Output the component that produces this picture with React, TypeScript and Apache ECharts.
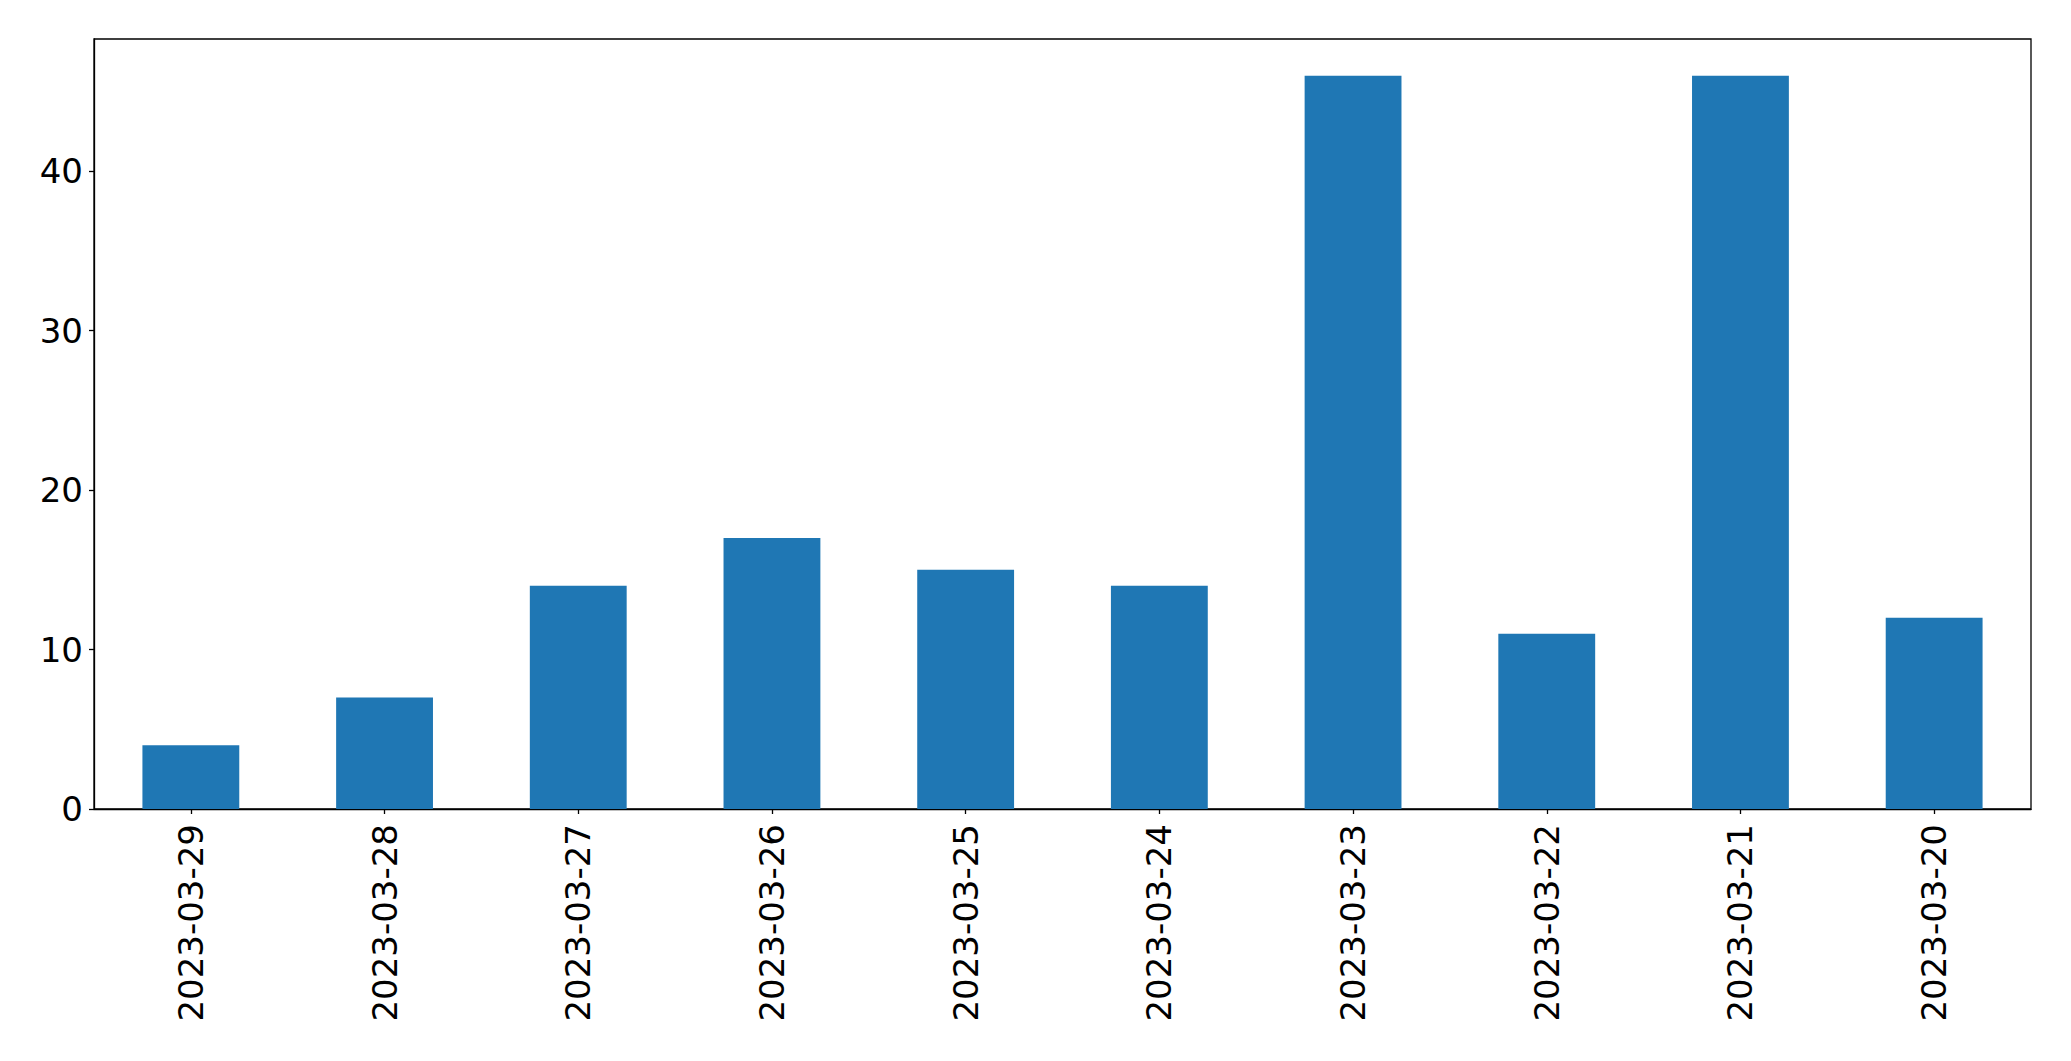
import React, { useEffect, useRef } from "react";
import * as echarts from "echarts";

const categories = [
  "2023-03-29", "2023-03-28", "2023-03-27", "2023-03-26", "2023-03-25",
  "2023-03-24", "2023-03-23", "2023-03-22", "2023-03-21", "2023-03-20",
];
const values = [4, 7, 14, 17, 15, 14, 46, 11, 46, 12];
const yMax = 48.3;
const yInterval = 10;

export default function App() {
  const ref = useRef<HTMLDivElement>(null);
  useEffect(() => {
    if (!ref.current) return;
    const chart = echarts.init(ref.current, undefined, { renderer: "svg" });
    const font = "DejaVu Sans";
    chart.setOption({
      animation: false,
      backgroundColor: "#ffffff",
      grid: {
        left: 94,
        top: 39,
        width: 1937,
        height: 770,
        show: true,
        borderColor: "#000000",
        borderWidth: 1.3,
        backgroundColor: "transparent",
      },
      xAxis: {
        type: "category",
        data: categories,
        axisLine: { show: true, lineStyle: { color: "#000000", width: 1.3 } },
        axisTick: { show: true, alignWithLabel: true, length: 5, lineStyle: { color: "#000000", width: 1.3 } },
        axisLabel: {
          rotate: 90,
          fontFamily: font,
          fontSize: 34,
          color: "#000000",
          margin: 15,
          interval: 0,
        },
        splitLine: { show: false },
      },
      yAxis: {
        type: "value",
        min: 0,
        max: yMax,
        interval: yInterval,
        axisLine: { show: true, lineStyle: { color: "#000000", width: 1.3 } },
        axisTick: { show: true, length: 5, lineStyle: { color: "#000000", width: 1.3 } },
        axisLabel: {
          fontFamily: font,
          fontSize: 34,
          color: "#000000",
          margin: 11,
          showMaxLabel: false,
          formatter: (v: number) => (v % 10 === 0 ? String(v) : ""),
        },
        splitLine: { show: false },
      },
      series: [
        {
          type: "bar",
          data: values,
          barCategoryGap: "50%",
          itemStyle: { color: "#1f77b4" },
        },
      ],
    });
    return () => chart.dispose();
  }, []);
  return (
    <div
      ref={ref}
      style={{ position: "fixed", left: 0, top: 0, width: 2071, height: 1061, background: "#fff" }}
    />
  );
}
